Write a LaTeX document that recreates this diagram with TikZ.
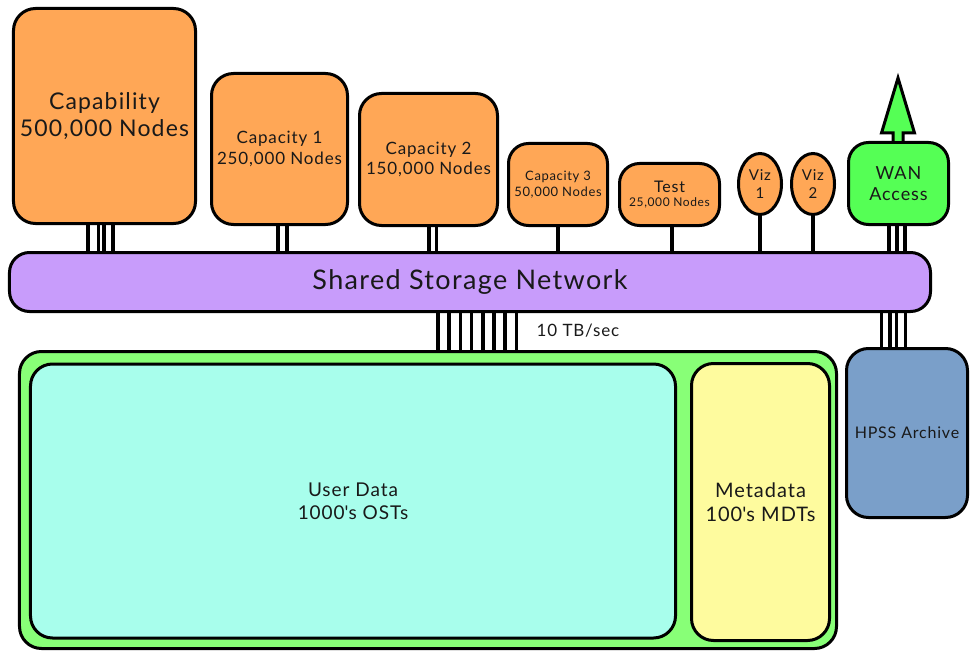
\documentclass[tikz,border=0pt]{standalone}
\usepackage{fontspec}
\setmainfont{Lato}[LetterSpace=5]
\usetikzlibrary{shapes.geometric}
\definecolor{computeorange}{HTML}{FFA756}
\definecolor{storagepurple}{HTML}{C89CFB}
\definecolor{wangreen}{HTML}{55FF55}
\definecolor{fsgreen}{HTML}{88FF77}
\definecolor{ostcyan}{HTML}{A8FEEC}
\definecolor{mdtyellow}{HTML}{FEFB9E}
\definecolor{archiveblue}{HTML}{7A9FC9}
\tikzset{
  box/.style={draw=black, line width=3bp, rounded corners=22bp, inner sep=0pt,
    align=center, text=black!90},
  computebox/.style={box, fill=computeorange},
  vizbox/.style={draw=black, line width=3bp, ellipse, fill=computeorange,
    inner sep=0pt, align=center, text=black!90},
  link/.style={line width=3.5bp},
  fs/.style={font=\fontsize{#1bp}{1.2\dimexpr#1bp\relax}\selectfont}
}
\begin{document}
\begin{tikzpicture}[x=1bp,y=-1bp]
  \useasboundingbox (0,0) rectangle (976,651);
  % compute systems
  \node[computebox, minimum width=182bp, minimum height=215bp, fs=23] (capab) at (104.5,116)
    {Capability\\500,000 Nodes};
  \node[computebox, minimum width=136bp, minimum height=151bp, fs=17] (capac1) at (279.5,149)
    {Capacity 1\\250,000 Nodes};
  \node[computebox, minimum width=138bp, minimum height=132bp, fs=17] (capac2) at (428.5,159.5)
    {Capacity 2\\150,000 Nodes};
  \node[computebox, minimum width=99bp, minimum height=82bp, rounded corners=20bp, fs=13] (capac3) at (558,184.5)
    {Capacity 3\\50,000 Nodes};
  \node[computebox, minimum width=100bp, minimum height=62bp, rounded corners=20bp, fs=12] (test) at (669.5,194.5)
    {{\fontsize{16bp}{18bp}\selectfont Test}\\25,000 Nodes};
  \node[vizbox, minimum width=43bp, minimum height=61bp, fs=15] (viz1) at (760,184) {Viz\\1};
  \node[vizbox, minimum width=43bp, minimum height=61bp, fs=15] (viz2) at (813,184) {Viz\\2};
  \node[box, fill=wangreen, minimum width=100bp, minimum height=82bp, rounded corners=20bp, fs=18] (wan) at (898.5,183.5)
    {WAN\\Access};
  % network and storage
  \node[box, fill=storagepurple, minimum width=921bp, minimum height=59bp, rounded corners=20bp, fs=27] (ssn) at (470,282)
    {Shared Storage Network};
  \node[box, fill=fsgreen, minimum width=817bp, minimum height=297bp, rounded corners=22bp] (lustre) at (428,500) {};
  \node[box, fill=ostcyan, minimum width=645bp, minimum height=274bp, rounded corners=22bp, fs=19] (ost) at (353,501)
    {User Data\\1000\textquotesingle s OSTs};
  \node[box, fill=mdtyellow, minimum width=138bp, minimum height=277bp, rounded corners=22bp, fs=20] (mdt) at (760.5,502)
    {Metadata\\100\textquotesingle s MDTs};
  \node[box, fill=archiveblue, minimum width=121bp, minimum height=169bp, rounded corners=22bp, fs=16] (hpss) at (907,433)
    {HPSS Archive};
  \node[fs=17, text=black!90] (bw) at (578,331) {10 TB/sec};
  % links to the network
  \foreach \dx in {-16.5,-6,-0.5,8.5}
    \draw[link] ([xshift=\dx bp]capab.south) -- ([xshift=\dx bp]capab.south |- ssn.north);
  \foreach \dx in {-1.5,7.5}
    \draw[link] ([xshift=\dx bp]capac1.south) -- ([xshift=\dx bp]capac1.south |- ssn.north);
  \foreach \dx in {0.5,8}
    \draw[link] ([xshift=\dx bp]capac2.south) -- ([xshift=\dx bp]capac2.south |- ssn.north);
  \draw[link] (capac3.south) -- (capac3.south |- ssn.north);
  \draw[link] ([xshift=2.5bp]test.south) -- ([xshift=2.5bp]test.south |- ssn.north);
  \draw[link] (viz1.south) -- (viz1.south |- ssn.north);
  \draw[link] (viz2.south) -- (viz2.south |- ssn.north);
  \foreach \dx in {-9.5,-1.5,6.5}
    \draw[link] ([xshift=\dx bp]wan.south) -- ([xshift=\dx bp]wan.south |- ssn.north);
  \foreach \dx in {-25.5,-17,-10.5,-1.5}
    \draw[link] ([xshift=\dx bp]hpss.north) -- ([xshift=\dx bp]hpss.north |- ssn.south);
  \coordinate (bus) at (438,313);
  \foreach \i in {0,...,7}
    \draw[link] ([xshift=\i*11.2bp]bus |- ssn.south) -- ([xshift=\i*11.2bp]bus |- lustre.north);
  % wide area uplink
  \draw[line width=3bp, fill=wangreen, line join=miter]
    ([xshift=-5.5bp]wan.north) -- ++(0,-8) -- ++(-11.5,0) -- ++(16.5,-55)
    -- ++(16.5,55) -- ++(-11.5,0) -- ++(0,8);
\end{tikzpicture}
\end{document}
